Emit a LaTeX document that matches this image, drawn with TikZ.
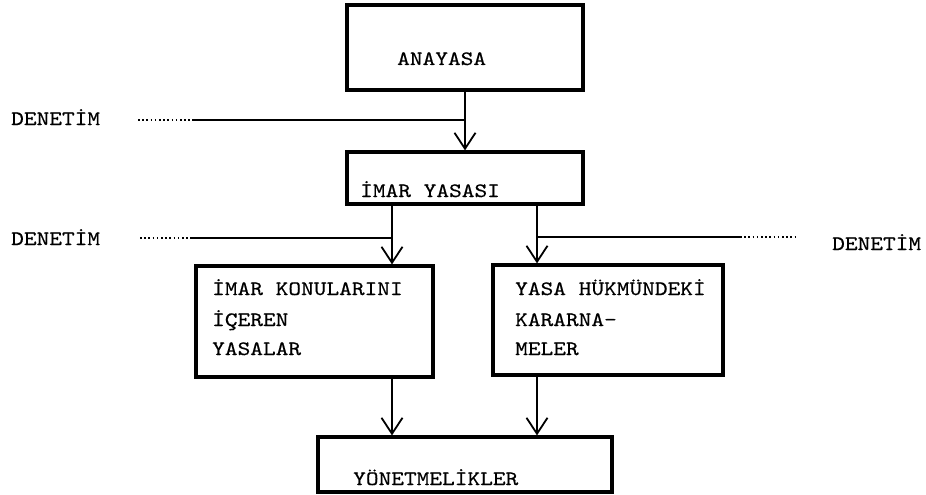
\documentclass[tikz,border=0pt]{standalone}
\usepackage{fontspec}
\usetikzlibrary{arrows.meta}
% typewriter face, widened and thickened a little to the typed look
\newfontfamily\tw{lmmono10-regular.otf}[FakeStretch=1.18, FakeBold=0.5]
\begin{document}
\begin{tikzpicture}[x=1pt,y=-1pt,
  box/.style={draw, line width=3.2pt, inner sep=0pt},
  txt/.style={anchor=base west, inner sep=0pt, font=\tw\fontsize{20.5}{24}\selectfont},
  link/.style={line width=1.8pt},
  arr/.style={link, -{Straight Barb[length=16pt,width=21pt,line width=1.8pt]}},
  dots/.style={line width=1.6pt, dash pattern=on 1.6pt off 2.6pt}]
\useasboundingbox (0,0) rectangle (926,495);

% boxes
\node[box, minimum width=236pt, minimum height=85pt] (ana) at (465,47.5) {};
\node[box, minimum width=236pt, minimum height=52pt] (imar) at (465,178) {};
\node[box, minimum width=237pt, minimum height=111pt] (lk) at (314.5,321.5) {};
\node[box, minimum width=230pt, minimum height=110pt] (rk) at (608,320) {};
\node[box, minimum width=294pt, minimum height=55pt] (yon) at (465,464.5) {};

% box texts
\node[txt] (tana) at (397,65) {ANAYASA};
\node[txt] (timar) at (360,197) {İMAR YASASI};
\node[txt] (tl1) at (212,295) {İMAR KONULARINI};
\node[txt] (tl2) at (212,326) {İÇEREN};
\node[txt] (tl3) at (212,355) {YASALAR};
\node[txt] (tr1) at (515,295) {YASA HÜKMÜNDEKİ};
\node[txt] (tr2) at (515,326) {KARARNA-};
\node[txt] (tr3) at (515,355) {MELER};
\node[txt] (tyon) at (353,485) {YÖNETMELİKLER};

% side labels
\node[txt] (den1) at (11,125) {DENETİM};
\node[txt] (den2) at (11,245) {DENETİM};
\node[txt] (den3) at (832,250) {DENETİM};

% columns of the two branches
\coordinate (xl) at (392,0);
\coordinate (xr) at (537,0);

% vertical flow
\draw[arr] (ana) -- (imar);
\draw[arr] (imar.south -| xl) -- (lk.north -| xl);
\draw[arr] (imar.south -| xr) -- (rk.north -| xr);
\draw[arr] (lk.south -| xl) -- (yon.north -| xl);
\draw[arr] (rk.south -| xr) -- (yon.north -| xr);

% control lines joining the flow
\coordinate (j1) at (ana.south |- 0,120);
\coordinate (a1) at (138,120);
\coordinate (b1) at (192,120);
\draw[dots] (a1) -- (b1);
\draw[link] (b1) -- (j1);

\coordinate (j2) at (xl |- 0,238);
\coordinate (a2) at (140,238);
\coordinate (b2) at (192,238);
\draw[dots] (a2) -- (b2);
\draw[link] (b2) -- (j2);

\coordinate (j3) at (xr |- 0,237);
\coordinate (b3) at (740,237);
\coordinate (a3) at (797,237);
\draw[link] (j3) -- (b3);
\draw[dots] (b3) -- (a3);
\end{tikzpicture}
\end{document}
